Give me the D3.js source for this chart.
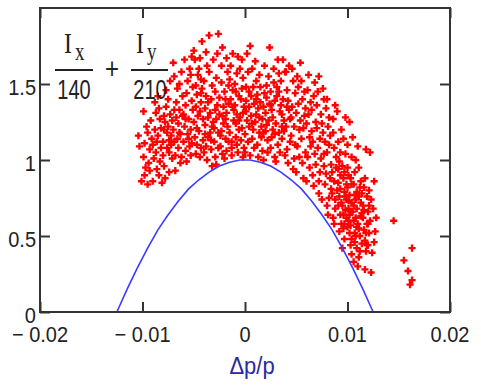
<!DOCTYPE html>
<html>
<head>
<meta charset="utf-8">
<script src="https://cdn.jsdelivr.net/npm/d3@7/dist/d3.min.js"></script>
<style>
html,body{margin:0;padding:0;background:#fff;}
svg{display:block;}
</style>
</head>
<body>
<svg id="chart" width="481" height="390"></svg>
<script>
// ---------------- data ----------------
const xTickValues = [-0.02, -0.01, 0, 0.01, 0.02];
const xTickLabels = ["\u2212 0.02", "\u2212 0.01", "0", "0.01", "0.02"];
const yTickValues = [0, 0.5, 1, 1.5];
const yTickLabels = ["0", "0.5", "1", "1.5"];
const xLabel = "\u0394p/p";

// blue acceptance curve
const curveDp  = [-0.0125,-0.0115,-0.0105,-0.0095,-0.0085,-0.0075,-0.0065,-0.0055,-0.0045,-0.0035,-0.0025,-0.0015,-0.0005,0.0005,0.0015,0.0025,0.0035,0.0045,0.0055,0.0065,0.0075,0.0085,0.0095,0.0105,0.0115,0.0125];
const curveVal = [0,0.15,0.29,0.42,0.54,0.64,0.73,0.81,0.87,0.92,0.96,0.985,1.0,1.0,0.985,0.96,0.92,0.87,0.81,0.73,0.64,0.54,0.42,0.29,0.15,0];

// red scatter points [dp/p, Ix/140 + Iy/210]
const scatterPoints = [
[-0.0103,1.09],[-0.0101,0.86],[-0.0104,1.16],
[-0.0099,1.32],[-0.0098,1.11],[-0.0097,0.95],[-0.0099,1.02],[-0.0096,1.22],[-0.0098,0.90],
[-0.0095,1.18],[-0.0094,0.98],[-0.0093,1.07],[-0.0092,1.26],[-0.0095,0.84],[-0.0091,1.14],[-0.0093,0.93],
[-0.0090,0.86],[-0.0089,1.01],[-0.0088,1.20],[-0.0087,1.31],[-0.0090,1.10],[-0.0086,0.94],[-0.0088,1.38],[-0.0087,1.05],
[-0.0085,1.16],[-0.0084,0.90],[-0.0083,1.27],[-0.0082,1.08],[-0.0085,1.42],[-0.0081,0.85],[-0.0083,0.99],[-0.0082,1.21],[-0.0084,1.34],
[-0.0080,1.12],[-0.0079,0.96],[-0.0078,1.25],[-0.0077,1.46],[-0.0080,1.03],[-0.0076,1.18],[-0.0078,0.88],[-0.0077,1.35],[-0.0079,1.29],[-0.0076,1.08],
[-0.0075,1.22],[-0.0074,0.92],[-0.0073,1.52],[-0.0072,1.10],[-0.0075,1.40],[-0.0071,1.01],[-0.0073,1.30],[-0.0072,1.16],[-0.0074,1.05],[-0.0071,1.26],
[-0.0070,1.64],[-0.0069,1.12],[-0.0068,0.93],[-0.0067,1.38],[-0.0070,1.20],[-0.0066,1.47],[-0.0068,1.03],[-0.0067,1.28],[-0.0069,1.55],[-0.0066,1.14],
[-0.0065,1.08],[-0.0064,1.33],[-0.0063,0.98],[-0.0062,1.58],[-0.0065,1.24],[-0.0061,1.42],[-0.0063,1.17],[-0.0062,1.02],[-0.0064,1.50],[-0.0061,1.29],
[-0.0059,1.66],[-0.0060,1.12],[-0.0058,1.36],[-0.0057,0.99],[-0.0059,1.22],[-0.0056,1.52],[-0.0058,1.06],[-0.0057,1.44],[-0.0060,1.30],[-0.0056,1.17],
[-0.0055,1.27],[-0.0054,1.60],[-0.0053,1.03],[-0.0052,1.39],[-0.0055,1.14],[-0.0051,1.48],[-0.0053,1.20],[-0.0052,1.68],[-0.0054,1.09],[-0.0051,1.33],[-0.0053,1.56],
[-0.0049,1.66],[-0.0050,1.25],[-0.0048,1.04],[-0.0047,1.43],[-0.0049,1.15],[-0.0046,1.56],[-0.0048,1.35],[-0.0047,1.10],[-0.0050,1.72],[-0.0046,1.29],[-0.0048,1.49],
[-0.0045,1.19],[-0.0044,1.02],[-0.0043,1.38],[-0.0042,1.78],[-0.0045,1.60],[-0.0041,1.27],[-0.0043,1.08],[-0.0042,1.47],[-0.0044,1.67],[-0.0041,1.13],[-0.0043,1.53],[-0.0044,1.32],
[-0.0039,1.23],[-0.0040,1.05],[-0.0038,1.42],[-0.0037,1.62],[-0.0039,1.34],[-0.0036,1.15],[-0.0038,1.71],[-0.0037,1.00],[-0.0040,1.52],[-0.0036,1.28],[-0.0038,1.09],
[-0.0035,1.82],[-0.0034,1.18],[-0.0033,1.40],[-0.0032,0.96],[-0.0035,1.58],[-0.0031,1.25],[-0.0033,1.07],[-0.0032,1.49],[-0.0034,1.31],[-0.0031,1.66],[-0.0033,1.13],
[-0.0030,1.21],[-0.0029,1.02],[-0.0028,1.54],[-0.0027,1.36],[-0.0030,1.12],[-0.0026,1.83],[-0.0028,1.27],[-0.0027,1.70],[-0.0029,1.45],[-0.0026,1.08],[-0.0028,0.97],
[-0.0025,1.30],[-0.0024,1.16],[-0.0023,1.62],[-0.0022,1.04],[-0.0025,1.41],[-0.0021,1.24],[-0.0023,1.51],[-0.0022,1.74],[-0.0024,1.09],[-0.0021,1.35],[-0.0023,1.19],
[-0.0019,1.27],[-0.0020,1.45],[-0.0018,1.06],[-0.0017,1.58],[-0.0019,1.14],[-0.0016,1.37],[-0.0018,1.67],[-0.0017,1.22],[-0.0020,1.01],[-0.0016,1.49],[-0.0018,1.31],
[-0.0015,1.18],[-0.0014,1.40],[-0.0013,1.03],[-0.0012,1.70],[-0.0015,1.53],[-0.0011,1.26],[-0.0013,1.12],[-0.0012,1.46],[-0.0014,1.62],[-0.0011,1.33],[-0.0013,1.08],
[-0.0009,1.24],[-0.0010,1.36],[-0.0008,1.57],[-0.0007,1.05],[-0.0009,1.15],[-0.0006,1.42],[-0.0008,1.30],[-0.0007,1.68],[-0.0010,1.50],[-0.0006,1.20],[-0.0008,1.10],
[-0.0005,1.28],[-0.0004,1.13],[-0.0003,1.47],[-0.0002,1.02],[-0.0005,1.60],[-0.0001,1.35],[-0.0003,1.21],[-0.0002,1.54],[-0.0004,1.40],[-0.0001,1.08],[-0.0003,1.66],
[0.0000,1.17],[0.0001,1.39],[0.0002,1.26],[0.0003,1.58],[0.0000,1.05],[0.0004,1.45],[0.0002,1.70],[0.0003,1.12],[0.0001,1.32],[0.0004,1.22],
[0.0005,1.75],[0.0006,1.29],[0.0007,1.14],[0.0008,1.48],[0.0005,1.03],[0.0009,1.37],[0.0007,1.60],[0.0008,1.20],[0.0006,1.42],[0.0009,1.08],
[0.0010,1.25],[0.0011,1.52],[0.0012,1.10],[0.0013,1.34],[0.0010,1.65],[0.0014,1.18],[0.0012,1.43],[0.0013,1.02],[0.0011,1.30],[0.0014,1.56],
[0.0015,1.38],[0.0016,1.15],[0.0017,1.27],[0.0018,1.00],[0.0015,1.48],[0.0019,1.62],[0.0017,1.06],[0.0018,1.35],[0.0016,1.22],[0.0019,1.44],
[0.0020,1.19],[0.0021,1.41],[0.0022,1.05],[0.0023,1.55],[0.0020,1.31],[0.0024,1.74],[0.0022,1.13],[0.0023,1.26],[0.0021,1.49],[0.0024,1.37],
[0.0025,1.08],[0.0026,1.33],[0.0027,1.20],[0.0028,1.60],[0.0025,1.45],[0.0029,1.02],[0.0027,1.28],[0.0028,1.51],[0.0026,1.15],[0.0029,1.39],
[0.0030,1.24],[0.0031,1.42],[0.0032,1.10],[0.0033,1.57],[0.0030,0.99],[0.0034,1.32],[0.0032,1.66],[0.0033,1.18],[0.0031,1.48],[0.0034,1.05],
[0.0035,1.36],[0.0036,1.14],[0.0037,1.66],[0.0038,1.26],[0.0035,1.52],[0.0039,1.03],[0.0037,1.40],[0.0038,1.19],[0.0036,1.30],[0.0039,1.58],
[0.0040,1.22],[0.0041,1.46],[0.0042,0.98],[0.0043,1.33],[0.0040,1.58],[0.0044,1.12],[0.0042,1.39],[0.0043,1.62],[0.0041,1.07],[0.0044,1.27],
[0.0045,1.16],[0.0046,1.35],[0.0047,1.52],[0.0048,1.01],[0.0045,1.28],[0.0049,1.44],[0.0047,0.94],[0.0048,1.22],[0.0046,1.60],[0.0049,1.10],
[0.0050,1.31],[0.0051,1.09],[0.0052,1.48],[0.0053,1.20],[0.0050,0.92],[0.0054,1.64],[0.0052,1.37],[0.0053,1.02],[0.0051,1.55],[0.0054,1.26],
[0.0055,1.14],[0.0056,1.40],[0.0057,0.88],[0.0058,1.29],[0.0055,1.52],[0.0059,1.05],[0.0057,1.21],[0.0058,1.45],[0.0056,0.98],[0.0059,1.34],
[0.0060,1.24],[0.0061,1.02],[0.0062,1.56],[0.0063,1.15],[0.0060,0.86],[0.0064,1.38],[0.0062,1.30],[0.0063,0.95],[0.0061,1.46],[0.0064,1.09],
[0.0065,1.19],[0.0066,0.90],[0.0067,1.42],[0.0068,1.04],[0.0065,1.33],[0.0069,1.25],[0.0067,0.83],[0.0068,1.51],[0.0066,1.12],[0.0069,0.97],
[0.0070,1.36],[0.0071,1.08],[0.0072,1.55],[0.0073,0.92],[0.0070,1.21],[0.0074,1.30],[0.0072,0.78],[0.0073,1.14],[0.0071,1.45],[0.0074,1.01],[0.0072,0.86],
[0.0075,1.24],[0.0076,1.47],[0.0077,0.96],[0.0078,1.12],[0.0075,0.74],[0.0079,1.34],[0.0077,1.04],[0.0078,0.84],[0.0076,1.18],[0.0079,0.91],[0.0077,1.40],
[0.0080,1.05],[0.0081,0.64],[0.0082,1.28],[0.0083,0.88],[0.0080,1.40],[0.0084,0.97],[0.0082,0.75],[0.0083,1.16],[0.0081,1.22],[0.0084,0.81],[0.0082,1.10],[0.0080,0.70],
[0.0085,0.92],[0.0086,1.18],[0.0087,0.58],[0.0088,1.36],[0.0085,0.78],[0.0089,1.02],[0.0087,0.86],[0.0088,0.68],[0.0086,1.27],[0.0089,0.95],[0.0087,1.08],[0.0088,0.74],[0.0086,0.62],
[0.0090,0.80],[0.0091,1.12],[0.0092,0.53],[0.0093,0.90],[0.0090,1.32],[0.0094,0.72],[0.0092,0.99],[0.0093,0.64],[0.0091,0.85],[0.0094,1.20],[0.0092,0.76],[0.0093,1.05],[0.0091,0.94],[0.0094,0.58],[0.0095,0.42],
[0.0095,0.70],[0.0096,0.88],[0.0097,0.48],[0.0098,1.28],[0.0095,0.96],[0.0099,0.62],[0.0097,0.79],[0.0098,1.04],[0.0096,0.55],[0.0099,0.84],[0.0097,0.92],[0.0098,0.67],[0.0096,1.14],[0.0099,0.74],[0.0097,0.58],
[0.0100,0.82],[0.0101,0.60],[0.0102,1.25],[0.0103,0.44],[0.0100,0.95],[0.0104,0.72],[0.0102,0.52],[0.0103,0.88],[0.0101,0.68],[0.0104,1.02],[0.0102,0.77],[0.0103,0.57],[0.0101,0.90],[0.0104,0.38],[0.0102,0.64],[0.0100,1.10],
[0.0105,0.66],[0.0106,0.84],[0.0107,0.46],[0.0108,0.74],[0.0105,1.15],[0.0109,0.56],[0.0107,0.92],[0.0108,0.62],[0.0106,0.33],[0.0109,0.79],[0.0107,0.52],[0.0108,1.00],[0.0106,0.70],[0.0109,0.42],
[0.0110,0.58],[0.0111,0.76],[0.0112,0.40],[0.0113,0.86],[0.0110,1.09],[0.0114,0.65],[0.0112,0.50],[0.0113,0.72],[0.0111,0.95],[0.0114,0.45],[0.0112,0.82],[0.0110,0.30],
[0.0115,0.70],[0.0116,0.54],[0.0117,0.88],[0.0118,0.40],[0.0115,0.62],[0.0119,0.76],[0.0117,0.47],[0.0118,1.07],[0.0116,0.82],[0.0119,0.58],[0.0117,0.28],
[0.0120,0.66],[0.0121,0.52],[0.0122,1.05],[0.0123,0.74],[0.0120,0.44],[0.0124,0.39],[0.0122,0.60],[0.0123,0.26],[0.0121,0.80],
[0.0126,0.86],[0.0127,0.53],[0.0125,0.68],[0.0128,0.62],[0.0126,0.46],
[0.0145,0.60],[0.0163,0.42],[0.0155,0.34],[0.0159,0.27],[0.0163,0.21],[0.0161,0.18],
[-0.0058,1.27],[-0.0052,1.11],[-0.0047,1.21],[-0.0043,1.44],[-0.0039,1.17],[-0.0036,1.38],[-0.0032,1.22],[-0.0029,1.33],[-0.0026,1.18],[-0.0022,1.29],[-0.0019,1.40],
[-0.0016,1.12],[-0.0012,1.35],[-0.0009,1.45],[-0.0006,1.26],[-0.0002,1.31],[0.0001,1.48],[0.0004,1.35],[0.0007,1.24],[0.0011,1.40],[0.0014,1.28],[0.0018,1.18],
[0.0021,1.23],[0.0025,1.36],[0.0029,1.17],[0.0033,1.45],[0.0036,1.22],[0.0041,1.35],[-0.0064,1.18],[-0.0069,1.33],[-0.0074,1.13],[-0.0079,1.20],[-0.0086,1.12],
[0.0091,0.70],[0.0093,0.81],[0.0096,0.64],[0.0098,0.76],[0.0100,0.56],[0.0101,0.73],[0.0103,0.66],[0.0104,0.84],[0.0106,0.60],[0.0107,0.77],[0.0108,0.50],
[0.0109,0.68],[0.0111,0.55],[0.0113,0.63],[0.0114,0.78],[0.0116,0.67],[0.0118,0.52],[0.0120,0.58],[0.0121,0.70],[0.0119,0.44],[0.0111,0.36],[0.0104,0.48]
];

// ---------------- drawing ----------------
const svg = d3.select("#chart");
svg.append("rect").attr("width", 481).attr("height", 390).attr("fill", "#fff");

const x = d3.scaleLinear().domain([-0.02, 0.02]).range([40, 450]);
const y = d3.scaleLinear().domain([0, 2]).range([312, 8]);

const axisColor = "#333";
const textColor = "#222";
const tickLen = 10;

// scatter
svg.append("g").selectAll("path").data(scatterPoints).join("path")
  .attr("d", d3.symbol(d3.symbolCross, 28))
  .attr("transform", d => `translate(${x(d[0])},${y(d[1])})`)
  .attr("fill", "#ff0000");

// curve
svg.append("path")
  .datum(d3.zip(curveDp, curveVal))
  .attr("fill", "none")
  .attr("stroke", "#3b3bff")
  .attr("stroke-width", 1.6)
  .attr("d", d3.line().x(d => x(d[0])).y(d => y(d[1])));

// axes (ticks inward)
function styleAxis(g) {
  g.select(".domain").remove();
  g.selectAll(".tick line").attr("stroke", axisColor).attr("stroke-width", 2);
  g.selectAll(".tick text").remove();
}
svg.append("g").attr("transform", "translate(0,312)")
  .call(d3.axisBottom(x).tickValues(xTickValues).tickSizeInner(-tickLen).tickSizeOuter(0)).call(styleAxis);
svg.append("g").attr("transform", "translate(0,8)")
  .call(d3.axisTop(x).tickValues(xTickValues).tickSizeInner(-tickLen).tickSizeOuter(0)).call(styleAxis);
svg.append("g").attr("transform", "translate(40,0)")
  .call(d3.axisLeft(y).tickValues(yTickValues).tickSizeInner(-tickLen).tickSizeOuter(0)).call(styleAxis);
svg.append("g").attr("transform", "translate(450,0)")
  .call(d3.axisRight(y).tickValues(yTickValues).tickSizeInner(-tickLen).tickSizeOuter(0)).call(styleAxis);

// frame
svg.append("rect")
  .attr("x", x.range()[0]).attr("y", y.range()[1])
  .attr("width", x.range()[1] - x.range()[0])
  .attr("height", y.range()[0] - y.range()[1])
  .attr("fill", "none").attr("stroke", axisColor).attr("stroke-width", 2);

// tick labels
const sy = 1.12;
svg.append("g").selectAll("text").data(xTickValues).join("text")
  .attr("transform", d => `translate(${x(d)},342) scale(1,${sy})`)
  .attr("text-anchor", "middle")
  .attr("font-family", "'Liberation Sans', Arial, sans-serif")
  .attr("font-size", 20).attr("fill", textColor)
  .text((d, i) => xTickLabels[i]);

svg.append("g").selectAll("text").data(yTickValues).join("text")
  .attr("transform", d => `translate(36,${y(d) + 11}) scale(1,${sy})`)
  .attr("text-anchor", "end")
  .attr("font-family", "'Liberation Sans', Arial, sans-serif")
  .attr("font-size", 20).attr("fill", textColor)
  .text((d, i) => yTickLabels[i]);

// x axis title
svg.append("text")
  .attr("transform", "translate(252,374) scale(1,1.1)")
  .attr("text-anchor", "middle")
  .attr("font-family", "'Liberation Sans', Arial, sans-serif")
  .attr("font-size", 22).attr("fill", "#2a2aa0")
  .text(xLabel);

// formula  Ix/140 + Iy/210
const f = svg.append("g").attr("fill", textColor);
function serif(txt, tx, ty, size, sc) {
  f.append("text").attr("transform", `translate(${tx},${ty}) scale(1,${sc})`)
    .attr("font-family", "'Liberation Serif', 'Times New Roman', serif")
    .attr("font-size", size).text(txt);
}
function sans(txt, tx, ty, size, sc) {
  f.append("text").attr("transform", `translate(${tx},${ty}) scale(1,${sc})`)
    .attr("text-anchor", "middle")
    .attr("font-family", "'Liberation Sans', Arial, sans-serif")
    .attr("font-size", size).text(txt);
}
serif("I", 64, 53, 24, 1.25);
serif("x", 75, 60, 19, 1.3);
f.append("line").attr("x1", 55).attr("x2", 93).attr("y1", 70).attr("y2", 70).attr("stroke", textColor).attr("stroke-width", 1.8);
sans("140", 74, 99, 20, 1.4);
sans("+", 112, 79, 24, 1.2);
serif("I", 136, 53, 24, 1.25);
serif("y", 147, 60, 19, 1.3);
f.append("line").attr("x1", 131).attr("x2", 168).attr("y1", 70).attr("y2", 70).attr("stroke", textColor).attr("stroke-width", 1.8);
sans("210", 150, 99, 20, 1.4);
</script>
</body>
</html>
